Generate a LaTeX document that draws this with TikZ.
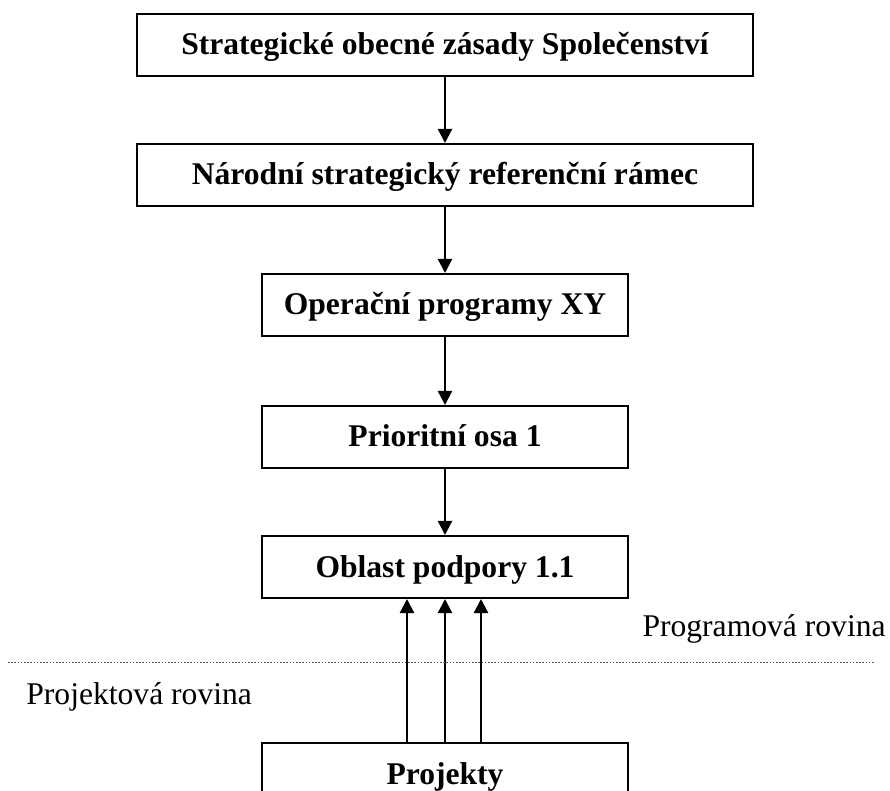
\documentclass[tikz,border=0pt]{standalone}
\usepackage{fontspec}
\setmainfont{Liberation Serif}
\usetikzlibrary{positioning,arrows.meta}

\begin{document}
\begin{tikzpicture}[
		box/.style={draw, line width=1pt, minimum height=31pt, text height=11pt, text depth=1pt, font=\fontsize{15.8}{19}\selectfont\bfseries},
		wide/.style={box, minimum width=308pt},
		narrow/.style={box, minimum width=183pt},
		arr/.style={line width=1.1pt, -{Triangle[width=7pt,length=7pt]}},
		rovina/.style={inner sep=0pt, font=\fontsize{15.8}{19}\selectfont}
	]
		\useasboundingbox (0,0) rectangle (445pt,-395.5pt);
		\clip (0,0) rectangle (445pt,-395.5pt);

		\node (sozs)[wide] at (222.5pt,-22.5pt) {Strategické obecné zásady Společenství};
		\node (nsrr)[wide, below=33pt of sozs] {Národní strategický referenční rámec};
		\node (op)[narrow, below=33pt of nsrr] {Operační programy XY};
		\node (po)[narrow, below=34pt of op] {Prioritní osa 1};
		\node (obl)[narrow, below=33pt of po] {Oblast podpory 1.1};
		\node (proj)[narrow, below=71.5pt of obl] {Projekty};

		\draw [arr](sozs) -- (nsrr);
		\draw [arr](nsrr) -- (op);
		\draw [arr](op) -- (po);
		\draw [arr](po) -- (obl);

		\foreach \dx in {-19pt,0pt,18pt}
			\draw [arr]([xshift=\dx]proj.north) -- ([xshift=\dx]obl.south);

		% hranice mezi rovinami
		\coordinate (dl) at (4pt,-331pt);
		\coordinate (dr) at (437.5pt,-331pt);
		\draw [gray!70!black, line width=0.5pt, dash pattern=on 0.8pt off 0.8pt](dl) -- (dr);

		\node (progrov)[rovina, anchor=base east] at (443pt,-318pt) {Programová rovina};
		\node (projrov)[rovina, anchor=base west] at (13pt,-352pt) {Projektová rovina};
	\end{tikzpicture}
\end{document}
